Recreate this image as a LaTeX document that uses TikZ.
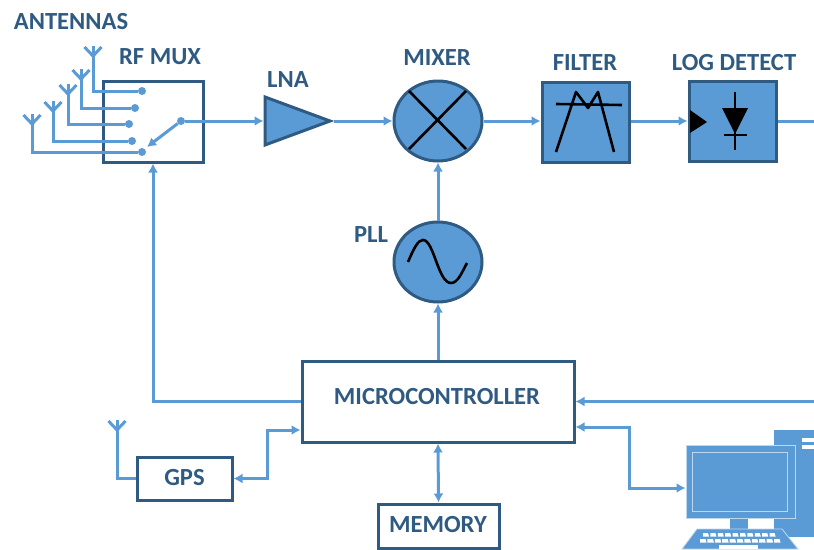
\documentclass[tikz,border=0pt]{standalone}
\usepackage{fontspec}
\setmainfont{Carlito}
\usetikzlibrary{arrows.meta, calc, shapes.geometric}
\definecolor{wireblue}{HTML}{5B9BD5}
\definecolor{darkblue}{HTML}{2F5A82}
\definecolor{paleblue}{HTML}{BDD7EE}
\tikzset{
	wire/.style={draw=wireblue, line width=3pt},
	arr/.style={wire, -{Latex[length=9pt,width=10pt]}},
	biarr/.style={wire, {Latex[length=9pt,width=10pt]}-{Latex[length=9pt,width=10pt]}},
	block/.style={draw=darkblue, line width=3pt, fill=white, inner sep=0pt},
	bluebox/.style={block, fill=wireblue, minimum width=87pt, minimum height=80pt},
	round block/.style={ellipse, draw=darkblue, line width=3pt, fill=wireblue, inner sep=0pt, minimum width=88pt, minimum height=80pt},
	label/.style={text=darkblue, font=\fontsize{24.6}{26}\selectfont\bfseries, inner sep=0pt},
	pin/.style={circle, fill=wireblue, inner sep=0pt, minimum size=8pt},
	icon/.style={draw=black, line width=2.6pt},
}
\begin{document}
\begin{tikzpicture}[x=1pt, y=-1pt]
	\useasboundingbox (0,0) rectangle (814,549);
	% blocks
	\node[block, minimum width=100pt, minimum height=81pt] (rfmux) at (153,121.5) {};
	\node[isosceles triangle, isosceles triangle stretches, draw=darkblue, line width=3pt, fill=wireblue, inner sep=0pt, minimum width=48pt, minimum height=65pt, anchor=west] (lna) at (263.5,121) {};
	\node[round block] (mixer) at (438,121) {};
	\node[bluebox] (filter) at (585.5,122) {};
	\node[bluebox] (logdet) at (732.5,121) {};
	\node[round block] (pll) at (438,262) {};
	\node[block, minimum width=272pt, minimum height=81pt] (micro) at (438,401.5) {};
	\node[block, minimum width=95pt, minimum height=43pt] (gps) at (184.5,478.5) {};
	\node[block, minimum width=121pt, minimum height=44pt] (memory) at (438.5,526) {};
	% labels
	\node[label] (antlabel) at (71,21.5) {ANTENNAS};
	\node[label] (muxlabel) at (160,56.5) {RF MUX};
	\node[label] (lnalabel) at (288,80) {LNA};
	\node[label] (mixlabel) at (437,58) {MIXER};
	\node[label] (fillabel) at (585,63) {FILTER};
	\node[label] (loglabel) at (734,63) {LOG DETECT};
	\node[label] (plllabel) at (371,235) {PLL};
	\node[label] (miclabel) at (437,397) {MICROCONTROLLER};
	\node[label] (gpslabel) at (184.5,478) {GPS};
	\node[label] (memlabel) at (438,525) {MEMORY};
	% antennas and switch
	\foreach \i/\x/\t/\px/\py in {1/93/46/142/91, 2/81/69/135/108, 3/68/84/129/124, 4/53/101/132/141, 5/32/114/142/152} {
		\coordinate (ant\i) at (\x,\t);
		\node[pin] (pin\i) at (\px,\py) {};
		\draw[wire] (ant\i) |- (pin\i);
	}
	\coordinate (ant6) at (117,420);
	\foreach \i in {1,...,6} {
		\draw[wire] ($(ant\i)+(-8.5,1)$) -- ($(ant\i)+(0,10)$) -- ($(ant\i)+(8.5,1)$);
	}
	\draw[wire] (ant6) |- (gps.west);
	\node[pin] (swpin) at (181,121) {};
	\coordinate (swtip) at (147,147);
	\draw[arr] (swpin) -- (swtip);
	% signal chain
	\draw[arr] (swpin) -- (lna.west);
	\draw[arr] (lna.east) -- (mixer.west);
	\draw[arr] (mixer.east) -- (filter.west |- mixer.east);
	\draw[arr] (filter.east |- logdet.west) -- (logdet.west);
	\coordinate (outright) at (814,121);
	\draw[wire] (logdet.east) -- (outright);
	\draw[arr] (pll.north) -- (mixer.south);
	\draw[arr] (micro.north) -- (pll.south);
	\draw[arr] (micro.west) -| (rfmux.south);
	\coordinate (inright) at (814,401.5);
	\draw[arr] (inright) -- (micro.east);
	% computer
	\fill[wireblue] (774,430) rectangle (814,537);
	\fill[white] (802,438) rectangle (814,442);
	\fill[white] (802,445) rectangle (814,449);
	\node[draw=paleblue, line width=1pt, fill=wireblue, minimum width=109pt, minimum height=73pt, inner sep=0pt] (monitor) at (740.5,481.5) {};
	\draw[paleblue, line width=1pt] (692,452) rectangle (787,511);
	\fill[wireblue] (730,518.5) rectangle (748,530);
	\draw[paleblue, line width=0.8pt, fill=wireblue] (697,529) -- (782,529) -- (798,549) -- (682,549) -- cycle;
	\foreach \k in {0,...,9} {
		\fill[white] ({703+7.4*\k},533) -- ++(5,0) -- ++(1,3.5) -- ++(-6,0) -- cycle;
	}
	\foreach \k in {0,...,10} {
		\fill[white] ({700+7.4*\k},539) -- ++(5.5,0) -- ++(1,3.5) -- ++(-6.5,0) -- cycle;
	}
	\fill[white] (719,544.5) rectangle (758,548.5);
	% side links
	\coordinate (micropc) at (micro.east |- 0,427);
	\coordinate (pcin) at (monitor.west |- 0,488);
	\draw[biarr] (micropc) -| (629,488) -- (pcin);
	\coordinate (microgps) at (micro.west |- 0,430);
	\draw[biarr] (gps.east) -| (267,430) -- (microgps);
	\draw[biarr] (memory.north) -- (micro.south);
	% icons
	\draw[icon] (409,91) -- (466,149) (409,149) -- (466,91);
	\draw[icon] (556,104) -- (622,105);
	\draw[icon, line join=round] (556,152) -- (576,92) -- (588,108) -- (598,92) -- (614,152);
	\fill[black] (690,110) -- (707,122) -- (690,133) -- cycle;
	\draw[icon] (735,92) -- (735,150) (724,135) -- (747,135);
	\fill[black] (722,108) -- (748,108) -- (735,134) -- cycle;
	\draw[icon] (408,262) .. controls (414,248) and (418,240) .. (423,240) .. controls (434,240) and (438,283) .. (451,283) .. controls (458,283) and (462,272) .. (467,263);
\end{tikzpicture}
\end{document}
